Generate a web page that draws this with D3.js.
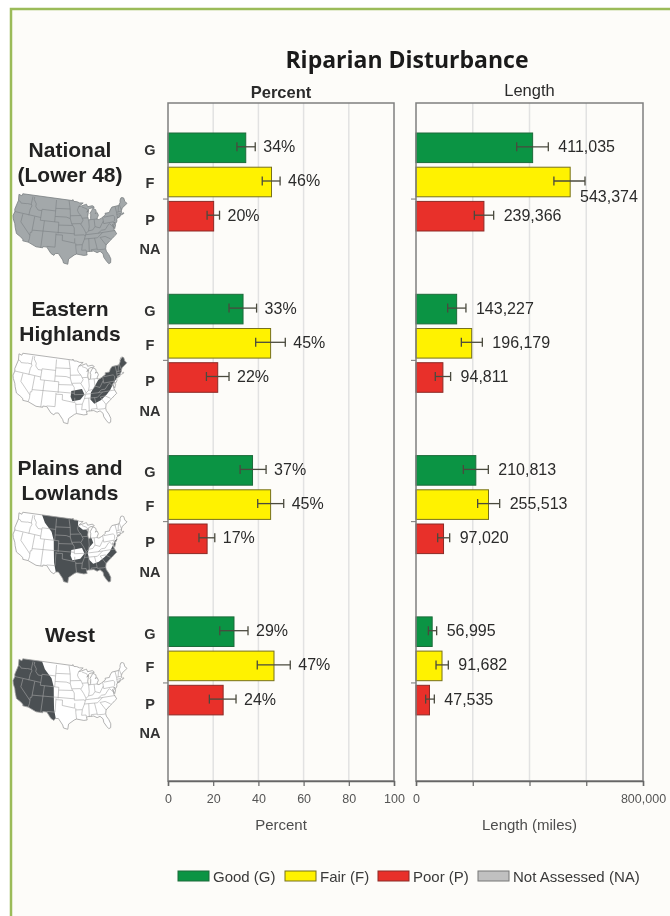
<!DOCTYPE html>
<html>
<head>
<meta charset="utf-8">
<script src="https://cdn.jsdelivr.net/npm/d3@7"></script>
<style>
  html, body { margin: 0; padding: 0; background: #fff; }
  text { font-family: "Liberation Sans", Arial, sans-serif; }
  svg { filter: blur(0.45px); }
</style>
</head>
<body>
<div id="chart"></div>
<script>
// chart values
const regions = ["National", "Eastern", "Plains", "West"]
const regionLabels = [["National", "(Lower 48)"], ["Eastern", "Highlands"], ["Plains and", "Lowlands"], ["West"]]
const cats = ["G", "F", "P", "NA"]
const catColors = ["#0b9444", "#fff200", "#e8302a", "#c0c0c0"]
const catStrokes = ["#1c6b3a", "#77711a", "#8c2a26", "#777777"]
const legendNames = ["Good (G)", "Fair (F)", "Poor (P)", "Not Assessed (NA)"]

const pctValues = [[34.4, 45.8, 20.2], [33.2, 45.4, 22.0], [37.4, 45.4, 17.3], [29.2, 46.9, 24.4]]
const pctLow = [[30.5, 41.7, 17.3], [27.0, 38.8, 17.0], [31.9, 39.7, 13.7], [22.9, 39.5, 18.3]]
const pctHigh = [[38.6, 49.6, 22.8], [39.2, 51.9, 27.0], [43.4, 51.2, 20.7], [35.4, 54.1, 30.1]]
const lenValues = [[411035, 543374, 239366], [143227, 196179, 94811], [210813, 255513, 97020], [56995, 91682, 47535]]
const lenLow = [[354900, 486000, 205600], [111600, 159800, 68000], [166800, 217300, 76400], [43500, 70600, 34000]]
const lenHigh = [[466300, 595600, 273700], [176000, 233800, 122000], [254900, 294900, 118700], [72800, 113900, 64600]]
const pctTicks = [0, 20, 40, 60, 80, 100]
const lenTicks = [0, 200000, 400000, 600000, 800000]

// rough lon/lat outlines for the little locator maps
const usOutline = [[-124.7,48.4],[-123,48.2],[-122.8,49],[-95.2,49],[-95.15,49.4],[-94.6,48.7],[-93,48.6],[-91.5,48.1],[-89.6,48],[-92.1,46.75],[-90.8,46.9],[-88.4,47.4],[-87.9,47.47],[-87.4,46.5],[-85,46.7],[-84.4,46.5],[-84,46],[-84.7,45.95],[-86.5,45.8],[-87.6,45.1],[-88,44.55],[-87.1,45.2],[-87.8,43],[-87.6,41.8],[-87,41.7],[-86.5,42.1],[-86.2,43.5],[-86.5,44],[-85.5,45],[-84.8,45.75],[-83.4,45.1],[-83.3,44.3],[-83.9,43.7],[-82.9,44.05],[-82.45,43],[-83.1,42.2],[-83.4,41.7],[-82.5,41.4],[-81.2,41.8],[-79,42.7],[-79,43.3],[-76.8,43.3],[-76.2,44.1],[-75,45],[-71.5,45],[-71,45.3],[-70.3,45.9],[-70,46.7],[-69.2,47.45],[-68.3,47.35],[-67.8,47.05],[-67.8,45.7],[-67,44.9],[-68.5,44.3],[-70,43.8],[-70.7,43],[-70.8,42.6],[-71,42.3],[-70.6,41.95],[-70,42],[-70,41.7],[-71.2,41.5],[-72.9,41.25],[-73.7,40.9],[-72,41.05],[-74,40.5],[-74.1,39.7],[-74.9,38.95],[-75.5,39.5],[-75.1,38.5],[-75.9,37.2],[-76.4,38.9],[-76.3,37],[-75.5,35.25],[-76.6,34.7],[-77.9,33.9],[-79.2,33.2],[-81,32],[-81.4,30.7],[-81.3,29.8],[-80.5,28.4],[-80,26.8],[-80.3,25.4],[-81.1,25.15],[-81.8,26.1],[-82.7,27.7],[-82.8,29],[-83.9,30.05],[-85.2,29.7],[-86.5,30.4],[-88.9,30.4],[-89.6,30.2],[-89.4,29.2],[-90.8,29.1],[-93.8,29.7],[-94.7,29.4],[-97.1,27.9],[-97.4,26],[-99.1,26.4],[-99.5,27.5],[-101.4,29.8],[-102.7,29.7],[-103.2,29],[-104.5,29.6],[-106.5,31.75],[-108.2,31.78],[-108.2,31.33],[-111.07,31.33],[-114.8,32.5],[-117.12,32.53],[-117.3,33.1],[-118.4,33.75],[-120.6,34.55],[-121.9,36.6],[-122.5,37.8],[-123.8,39.3],[-124.4,40.4],[-124.1,42],[-124.5,42.8],[-124,46.2],[-124.7,48.4]]
const stateLines = [
  [[-124,46.25],[-123,46.1],[-122.3,45.55],[-119.3,45.9],[-119,46],[-116.9,46]],
  [[-117.03,49],[-117.04,46.4],[-116.9,46],[-116.5,45.5],[-117,44.3],[-117.03,42]],
  [[-124.2,42],[-111.05,42]],
  [[-120,42],[-120,39],[-114.6,35]],
  [[-114.05,42],[-114.05,36.2],[-114.7,36.1],[-114.6,35],[-114.5,33.9],[-114.75,32.5]],
  [[-116.05,49],[-116.05,48],[-114.5,46.6],[-114.5,45.6],[-113,44.5],[-111.05,44.5]],
  [[-111.05,45],[-111.05,41],[-102.05,41]],
  [[-111.05,45],[-104.05,45]],
  [[-104.05,49],[-104.05,41]],
  [[-104.05,45.94],[-96.56,45.94]],
  [[-104.05,43],[-98.5,43],[-96.5,42.5]],
  [[-109.05,41],[-109.05,31.33]],
  [[-114.05,37],[-94.6,37]],
  [[-103,37],[-103,32],[-106.6,32]],
  [[-103,36.5],[-100,36.5],[-100,34.55],[-94.5,33.65]],
  [[-102.05,41],[-102.05,37]],
  [[-102.05,40],[-95.3,40]],
  [[-94.6,39.1],[-94.6,36.5],[-90.1,36.5],[-89.7,36]],
  [[-94.45,35.4],[-94.5,33.65]],
  [[-94.05,33],[-91.2,33]],
  [[-94.05,33.6],[-94.05,32],[-93.8,29.7]],
  [[-91.2,33],[-91.6,31],[-89.7,31],[-89.6,30.2]],
  [[-96.5,42.5],[-95.8,40.6],[-95.3,40],[-94.6,39.1]],
  [[-95.8,40.6],[-91.7,40.6],[-91.4,40.4]],
  [[-96.5,43.5],[-91.2,43.5]],
  [[-97.2,49],[-96.56,45.9],[-96.45,43.5],[-96.5,42.5]],
  [[-92.1,46.75],[-92.8,45.5],[-92.3,44.5],[-91.2,43.5],[-90.2,41.8],[-91.4,40.4],[-90.2,38.8],[-89.2,37],[-89.7,36],[-90.1,35],[-91.2,33]],
  [[-90.6,42.5],[-87.8,42.5]],
  [[-90.4,46.55],[-88,45.8],[-87.6,45.1]],
  [[-87.5,41.7],[-87.5,39.3],[-88,37.8]],
  [[-89.2,37],[-88,37.8],[-86,38],[-84.8,39.1],[-82.6,38.4],[-80.6,40.6]],
  [[-84.8,41.7],[-84.8,39.1]],
  [[-87,41.75],[-84.8,41.75],[-83.4,41.7]],
  [[-89.4,36.5],[-83.7,36.6],[-75.9,36.55]],
  [[-83.7,36.6],[-82,37.5],[-80.3,37.5],[-78.4,39.1],[-77.7,39.3],[-77,38.5],[-76.3,38]],
  [[-90.2,35],[-84.3,35],[-81.7,36.6]],
  [[-88.2,35],[-88.4,30.3]],
  [[-85.6,35],[-85.1,32],[-85,31]],
  [[-87.5,30.3],[-87.5,31],[-85,31],[-84.9,30.7],[-82.2,30.6],[-81.5,30.7]],
  [[-83.1,35],[-81,32]],
  [[-83.1,35],[-80.8,35.1],[-78.6,33.9]],
  [[-80.5,42],[-80.5,39.72],[-75.8,39.72]],
  [[-79.8,42.2],[-79.8,42],[-75.3,42],[-74.7,41.4],[-75.1,40.2],[-75.5,39.8]],
  [[-75.8,39.72],[-75.6,38.5]],
  [[-73.35,45],[-73.3,42.75],[-73.5,41.1]],
  [[-71.5,45],[-72.5,42.75]],
  [[-73.3,42.75],[-70.8,42.8]],
  [[-73.5,42.05],[-71.3,42]],
  [[-71.8,42],[-71.8,41.3]],
  [[-71,45.3],[-70.7,43.1]]
]
const westBoundary = [[-112.5,50],[-110,47],[-106,44],[-104.5,41],[-104,37],[-103.5,33],[-102,28]]
const westZone = [[-130,50], ...westBoundary, [-130,28]]
const plainsZone = [...westBoundary, [-102,24],[-70,24],[-70,40],[-73,40.5],[-75,39.5],[-76.5,38],[-78.5,36],[-81,34.5],[-84,33],[-86.5,32.5],[-88,34],[-88.5,36.5],[-87.5,38.5],[-85.5,40],[-86,41.5],[-87,43],[-88,45],[-90,45],[-92.5,46.5],[-92,50]]
const highlandsZone = [[-68,47.6],[-67,45],[-70,43.5],[-72,41.5],[-74,40.5],[-76,39],[-78,37],[-80,35.5],[-83,33.8],[-86,32.8],[-87.5,34.5],[-87,37],[-85,39],[-83,41],[-81,42],[-79,43.3],[-75,45],[-73.5,46],[-71,46]]
const ozarks = [[-96,37.8],[-91,38.5],[-90,36.4],[-92,34.6],[-95.5,34.2],[-96.3,35.8]]

const W = 670, H = 916
const svg = d3.select("#chart").append("svg").attr("width", W).attr("height", H).style("display", "block")

svg.append("rect").attr("x", 11).attr("y", 9).attr("width", W).attr("height", H).attr("fill", "#fdfcf9")
   .attr("stroke", "#9bbb59").attr("stroke-width", 2.5)

svg.append("text").attr("x", 407).attr("y", 68).attr("text-anchor", "middle")
   .style("font-family", "'Open Sans'").style("font-size", "23px").style("font-weight", 700).attr("fill", "#1a1a1a")
   .text("Riparian Disturbance")

const panelTop = 103, panelBottom = 781
const yGroup = d3.scaleBand().domain(regions).range([118.4, 763.6])
const yCat = d3.scaleBand().domain(cats).range([14.6, 146.8]).paddingInner(0.135)

const panels = [
  {x0: 168, x1: 394, domain: [0, 100], ticks: pctTicks, vals: pctValues, lo: pctLow, hi: pctHigh,
   fmt: d => Math.round(d) + "%", tickFmt: d => d, title: "Percent", titleWeight: 700, titleY: 98, axisTitle: "Percent", labelGap: 8},
  {x0: 416, x1: 643, domain: [0, 800000], ticks: lenTicks, vals: lenValues, lo: lenLow, hi: lenHigh,
   fmt: d3.format(","), tickFmt: d => (d === 0 || d === 800000) ? d3.format(",")(d) : "", title: "Length", titleWeight: 400, titleY: 96, axisTitle: "Length (miles)", labelGap: 10}
]

panels.forEach((p) => {
  const x = d3.scaleLinear().domain(p.domain).range([p.x0, p.x1])
  const mid = (p.x0 + p.x1) / 2
  const g = svg.append("g")

  // grid
  g.selectAll(".grid").data(p.ticks.slice(1, -1)).enter().append("line")
   .attr("x1", d => x(d)).attr("x2", d => x(d)).attr("y1", panelTop).attr("y2", panelBottom)
   .attr("stroke", "#e2e2e2").attr("stroke-width", 1.5)

  // bars, error bars and labels
  regions.forEach((r, ri) => {
    const rows = cats.slice(0, 3).map((c, ci) => ({c: c, ci: ci, v: p.vals[ri][ci], lo: p.lo[ri][ci], hi: p.hi[ri][ci]}))
    const top = yGroup(r)
    g.selectAll(".bar" + ri).data(rows).enter().append("rect")
     .attr("x", x(0)).attr("y", d => top + yCat(d.c))
     .attr("width", d => x(d.v) - x(0)).attr("height", yCat.bandwidth())
     .attr("fill", d => catColors[d.ci]).attr("stroke", d => catStrokes[d.ci]).attr("stroke-width", 1)
    const cy = d => top + yCat(d.c) + yCat.bandwidth() / 2 - 1
    const err = g.selectAll(".err" + ri).data(rows).enter().append("g").attr("stroke", "#4a4a3e").attr("stroke-width", 1.3)
    err.append("line").attr("x1", d => x(d.lo)).attr("x2", d => x(d.hi)).attr("y1", cy).attr("y2", cy)
    err.append("line").attr("x1", d => x(d.lo)).attr("x2", d => x(d.lo)).attr("y1", d => cy(d) - 4.5).attr("y2", d => cy(d) + 4.5)
    err.append("line").attr("x1", d => x(d.hi)).attr("x2", d => x(d.hi)).attr("y1", d => cy(d) - 4.5).attr("y2", d => cy(d) + 4.5)
    g.selectAll(".lab" + ri).data(rows).enter().append("text")
     .attr("x", d => (d.v === 543374) ? x(d.hi) - 5 : x(d.hi) + p.labelGap)
     .attr("y", d => (d.v === 543374) ? cy(d) + 21 : cy(d) + 5.5)
     .style("font-size", "16px").attr("fill", "#2b2b2b")
     .text(d => p.fmt(d.v))
  })

  // frame and axes
  g.append("rect").attr("x", p.x0).attr("y", panelTop).attr("width", p.x1 - p.x0).attr("height", panelBottom - panelTop)
   .attr("fill", "none").attr("stroke", "#7f7f7f").attr("stroke-width", 1.5)

  const axisB = g.append("g").attr("transform", "translate(0," + panelBottom + ")")
    .call(d3.axisBottom(x).tickValues(p.ticks).tickFormat(p.tickFmt).tickSize(5).tickPadding(8))
  axisB.select(".domain").attr("stroke", "#666").attr("stroke-width", 1.5)
  axisB.selectAll("line").attr("stroke", "#666").attr("stroke-width", 1.2)
  axisB.selectAll("text").style("font-size", "12.5px").attr("fill", "#555")

  const axisL = g.append("g").attr("transform", "translate(" + p.x0 + ",0)")
    .call(d3.axisLeft(yGroup).tickFormat("").tickSize(5))
  axisL.select(".domain").remove()
  axisL.selectAll("line").attr("stroke", "#777")

  g.append("text").attr("x", mid).attr("y", p.titleY).attr("text-anchor", "middle")
   .style("font-size", "16.5px").style("font-weight", p.titleWeight).attr("fill", "#2b2b2b").text(p.title)
  g.append("text").attr("x", mid).attr("y", 830).attr("text-anchor", "middle")
   .style("font-size", "15px").attr("fill", "#4d4d4d").text(p.axisTitle)
})

// G F P NA letters and region names
const catNudge = [2, 1.5, 3.5, -1]
const nameBaseline = [157, 316, 475, 642]
regions.forEach((r, ri) => {
  const top = yGroup(r)
  svg.selectAll(".cat" + ri).data(cats).enter().append("text")
     .attr("x", 150).attr("y", (d, i) => top + yCat(d) + yCat.bandwidth() / 2 + catNudge[i] + 5)
     .attr("text-anchor", "middle").style("font-size", "14.5px").style("font-weight", 700).attr("fill", "#333")
     .text(d => d)
  svg.selectAll(".name" + ri).data(regionLabels[ri]).enter().append("text")
     .attr("x", 70).attr("y", (d, i) => nameBaseline[ri] + i * 24.5)
     .attr("text-anchor", "middle").style("font-size", "21px").style("font-weight", 700).attr("fill", "#222")
     .text(d => d)
})

// locator maps
const mapBoxes = [[193, 265], [353, 424], [512, 583], [658, 730]]
const lineGen = d3.line()
const clip = svg.append("defs")
regions.forEach((r, ri) => {
  const proj = d3.geoAlbers().fitExtent([[13, mapBoxes[ri][0]], [127, mapBoxes[ri][1]]], {type: "MultiPoint", coordinates: usOutline})
  const toPath = (pts, closed) => lineGen(pts.map(proj)) + (closed ? "Z" : "")
  const id = "us" + ri
  clip.append("clipPath").attr("id", id).append("path").attr("d", toPath(usOutline, true))
  const m = svg.append("g")
  const national = ri === 0
  m.append("path").attr("d", toPath(usOutline, true)).attr("fill", national ? "#a3a8aa" : "#ffffff")
  const zones = ri === 1 ? [highlandsZone, ozarks] : ri === 2 ? [plainsZone] : ri === 3 ? [westZone] : []
  zones.forEach(z => {
    m.append("path").attr("d", toPath(z, true)).attr("fill", "#4b5053").attr("clip-path", "url(#" + id + ")")
  })
  if (ri === 2) m.append("path").attr("d", toPath(ozarks, true)).attr("fill", "#ffffff").attr("clip-path", "url(#" + id + ")")
  m.selectAll(".st").data(stateLines).enter().append("path")
   .attr("d", d => toPath(d, false)).attr("fill", "none")
   .attr("stroke", national ? "#7b8083" : "#a5a5a5").attr("stroke-width", 0.6)
  m.append("path").attr("d", toPath(usOutline, true)).attr("fill", "none")
   .attr("stroke", national ? "#7a7f82" : "#a0a0a0").attr("stroke-width", 0.8)
})

// legend
const legendX = [178, 285, 378, 478]
const legend = svg.selectAll(".leg").data(legendNames).enter().append("g")
  .attr("transform", (d, i) => "translate(" + legendX[i] + ",871)")
legend.append("rect").attr("width", 31).attr("height", 10)
  .attr("fill", (d, i) => catColors[i]).attr("stroke", (d, i) => catStrokes[i]).attr("stroke-width", 1)
legend.append("text").attr("x", 35).attr("y", 10.5).style("font-size", "15px").attr("fill", "#3a3a3a").text(d => d)
</script>
</body>
</html>
